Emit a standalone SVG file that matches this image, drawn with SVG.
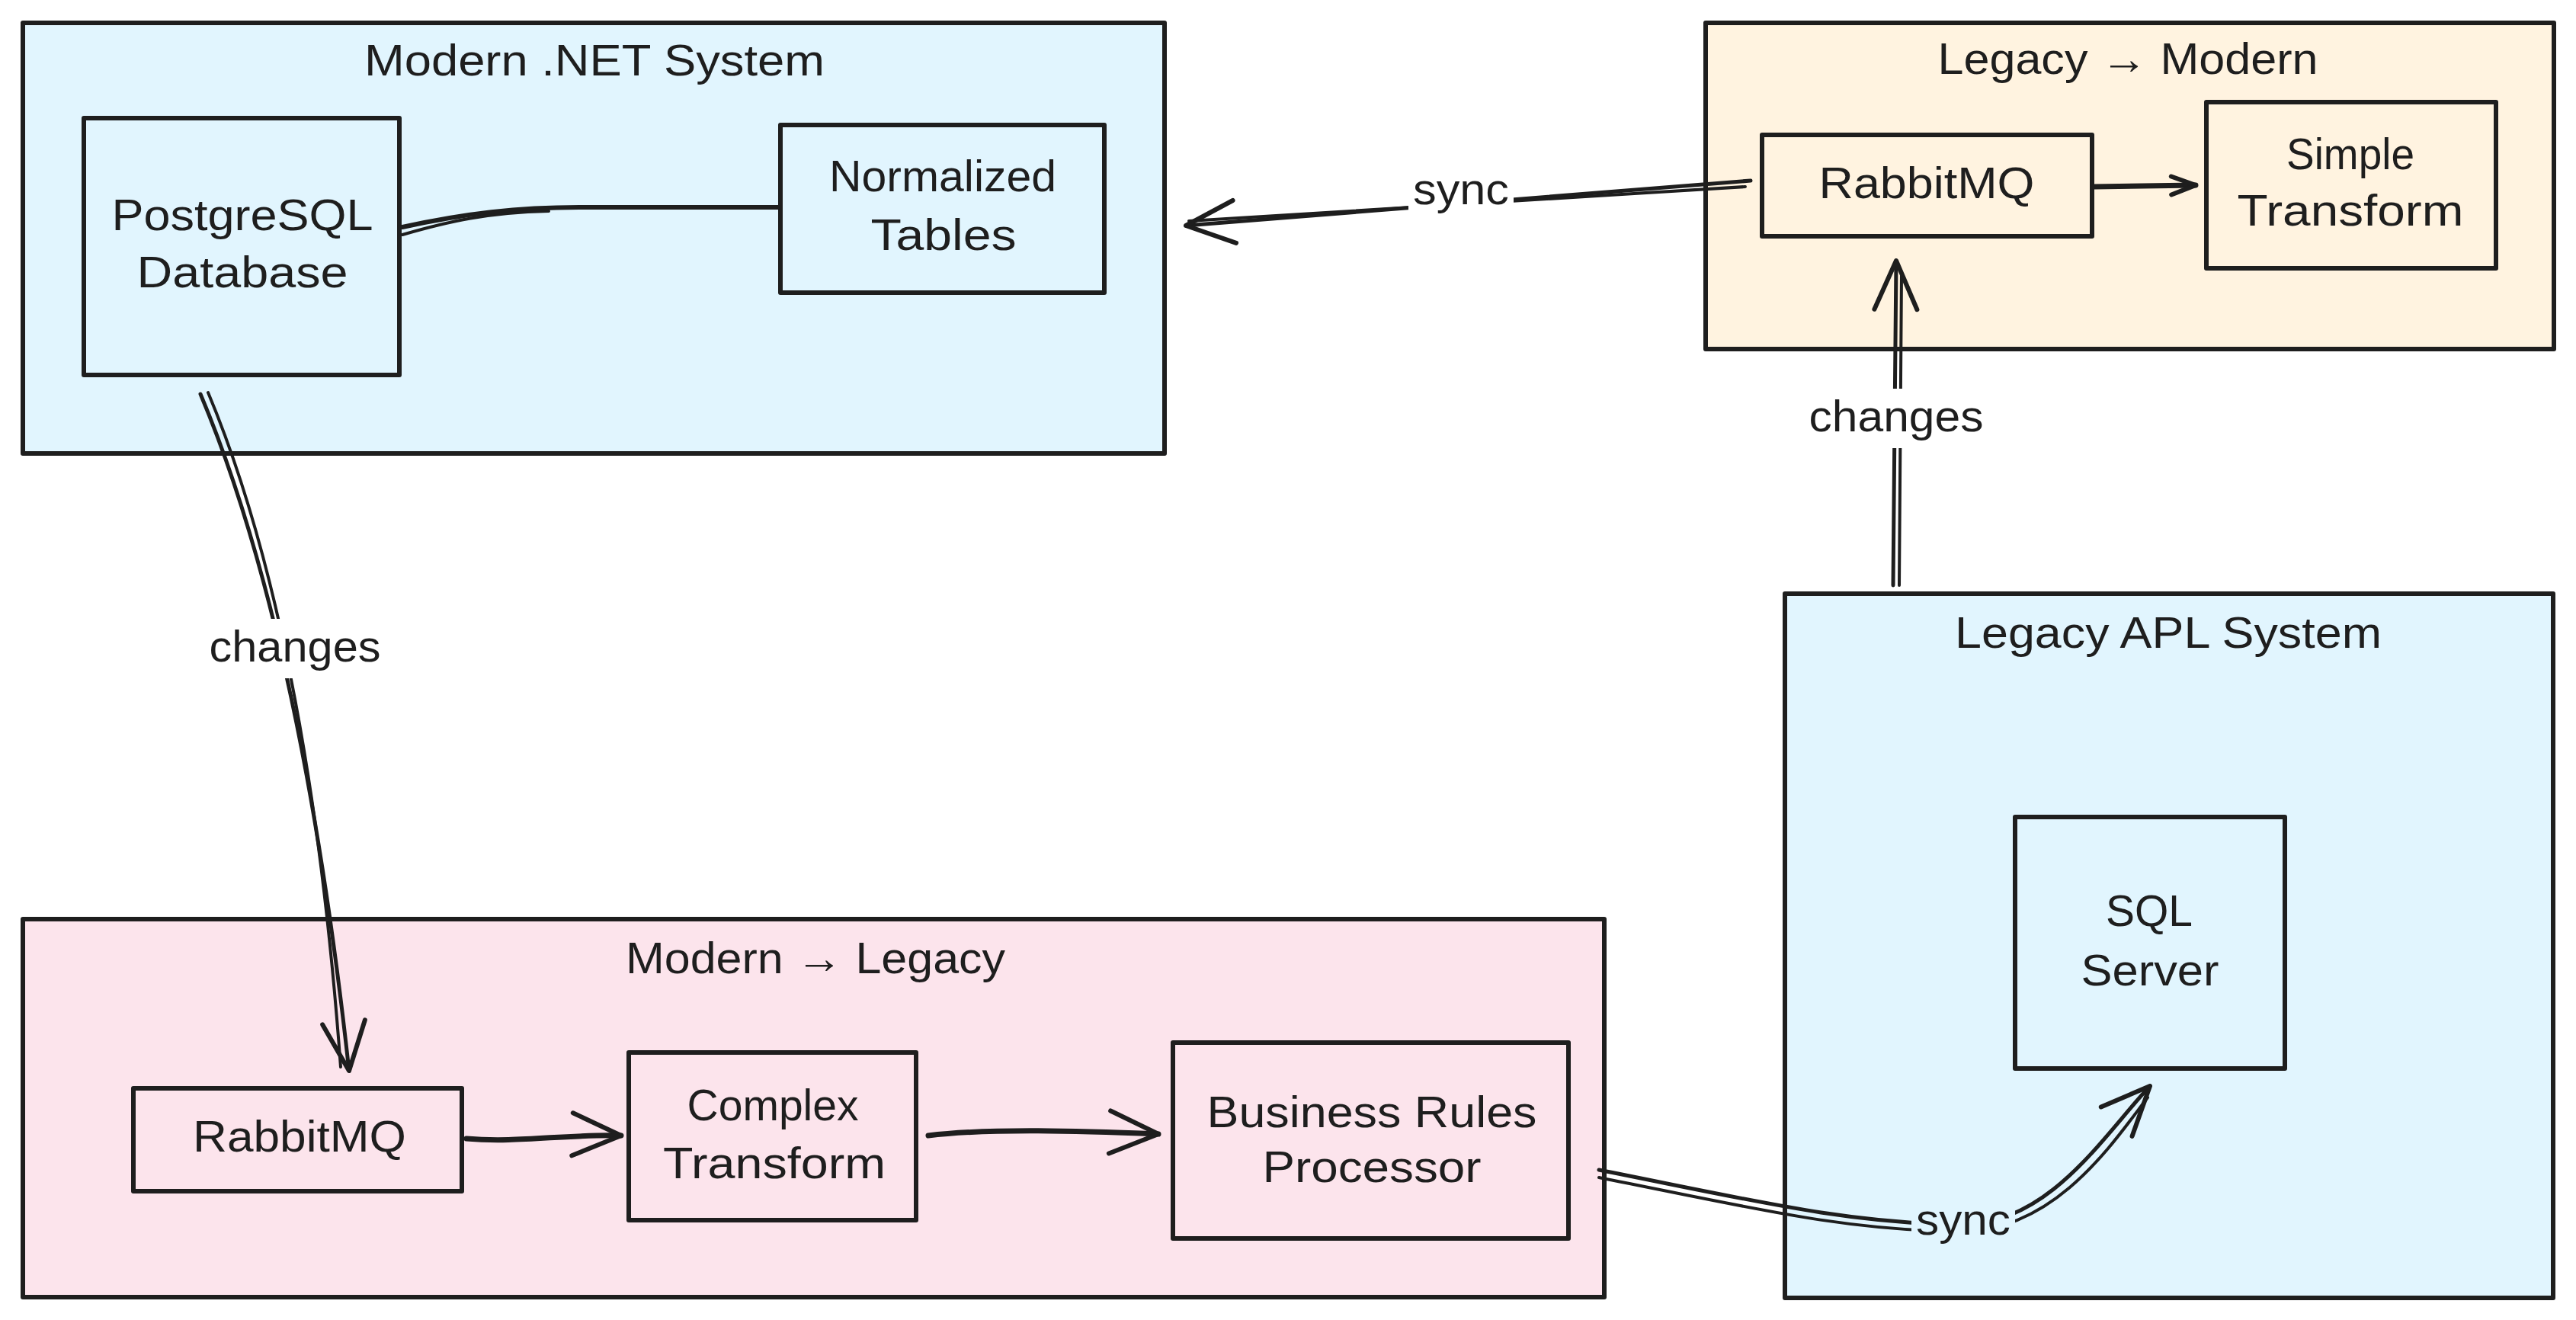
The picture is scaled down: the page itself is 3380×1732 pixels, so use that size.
<svg xmlns="http://www.w3.org/2000/svg" width="3380" height="1732" viewBox="0 0 3380 1732">
<defs>
<style>
.box{stroke:#1e1e1e;stroke-width:6;stroke-linejoin:round}
.blue{fill:#e1f5fe}
.orange{fill:#fff3e0}
.pink{fill:#fce4ec}
.t{font-family:'Liberation Sans',Arial,'DejaVu Sans',sans-serif;font-size:58px;fill:#1e1e1e;text-anchor:middle}
.c{fill:none;stroke:#1e1e1e;stroke-width:5;stroke-linecap:round;stroke-linejoin:round}
.c2{fill:none;stroke:#1e1e1e;stroke-width:4;stroke-linecap:round}
</style>
<marker id="ah" viewBox="-70 -40 80 80" refX="0" refY="0" markerWidth="80" markerHeight="80" markerUnits="userSpaceOnUse" orient="auto" overflow="visible">
<path d="M-64,-28 L0,0 L-64,28" fill="none" stroke="#1e1e1e" stroke-width="6" stroke-linecap="round" stroke-linejoin="round"/>
</marker>
<marker id="ahs" viewBox="-40 -20 50 40" refX="0" refY="0" markerWidth="50" markerHeight="40" markerUnits="userSpaceOnUse" orient="auto" overflow="visible">
<path d="M-32,-12 L0,0 L-32,12" fill="none" stroke="#1e1e1e" stroke-width="6" stroke-linecap="round" stroke-linejoin="round"/>
</marker>
</defs>
<rect width="3380" height="1732" fill="#ffffff"/>

<g id="modern-net-system">
<rect class="box blue" x="30" y="30" width="1498" height="565"/>
<text class="t" x="780" y="99" textLength="604" lengthAdjust="spacingAndGlyphs">Modern .NET System</text>
</g>
<g id="legacy-to-modern">
<rect class="box orange" x="2238" y="30" width="1113" height="428"/>
<text class="t" x="2792" y="97" textLength="499" lengthAdjust="spacingAndGlyphs">Legacy → Modern</text>
</g>
<g id="legacy-apl-system">
<rect class="box blue" x="2342" y="779" width="1008" height="924"/>
<text class="t" x="2845" y="850" textLength="560" lengthAdjust="spacingAndGlyphs">Legacy APL System</text>
</g>
<g id="modern-to-legacy">
<rect class="box pink" x="30" y="1206" width="2075" height="496"/>
<text class="t" x="1070" y="1277" textLength="498" lengthAdjust="spacingAndGlyphs">Modern → Legacy</text>
</g>

<g id="postgresql-database">
<rect class="box blue" x="110" y="155" width="414" height="337"/>
<text class="t" x="318" y="302" textLength="343" lengthAdjust="spacingAndGlyphs">PostgreSQL</text>
<text class="t" x="318" y="377" textLength="277" lengthAdjust="spacingAndGlyphs">Database</text>
</g>
<g id="normalized-tables">
<rect class="box blue" x="1024" y="164" width="425" height="220"/>
<text class="t" x="1237" y="251" textLength="298" lengthAdjust="spacingAndGlyphs">Normalized</text>
<text class="t" x="1238" y="328" textLength="191" lengthAdjust="spacingAndGlyphs">Tables</text>
</g>
<g id="rabbitmq-top">
<rect class="box orange" x="2312" y="177" width="433" height="133"/>
<text class="t" x="2528" y="260" textLength="283" lengthAdjust="spacingAndGlyphs">RabbitMQ</text>
</g>
<g id="simple-transform">
<rect class="box orange" x="2895" y="134" width="380" height="218"/>
<text class="t" x="3084" y="222" textLength="168" lengthAdjust="spacingAndGlyphs">Simple</text>
<text class="t" x="3084" y="296" textLength="297" lengthAdjust="spacingAndGlyphs">Transform</text>
</g>
<g id="sql-server">
<rect class="box blue" x="2644" y="1072" width="354" height="330"/>
<text class="t" x="2820" y="1215" textLength="114" lengthAdjust="spacingAndGlyphs">SQL</text>
<text class="t" x="2821" y="1293" textLength="181" lengthAdjust="spacingAndGlyphs">Server</text>
</g>
<g id="rabbitmq-bottom">
<rect class="box pink" x="175" y="1428" width="431" height="135"/>
<text class="t" x="393" y="1511" textLength="280" lengthAdjust="spacingAndGlyphs">RabbitMQ</text>
</g>
<g id="complex-transform">
<rect class="box pink" x="825" y="1381" width="377" height="220"/>
<text class="t" x="1014" y="1470" textLength="225" lengthAdjust="spacingAndGlyphs">Complex</text>
<text class="t" x="1016" y="1546" textLength="292" lengthAdjust="spacingAndGlyphs">Transform</text>
</g>
<g id="business-rules-processor">
<rect class="box pink" x="1539" y="1368" width="519" height="257"/>
<text class="t" x="1800" y="1479" textLength="433" lengthAdjust="spacingAndGlyphs">Business Rules</text>
<text class="t" x="1800" y="1551" textLength="287" lengthAdjust="spacingAndGlyphs">Processor</text>
</g>

<g id="connectors">
<path class="c" style="stroke-width:6" d="M528,298 C610,280 680,272 760,272 L1022,272"/>
<path class="c2" d="M528,308 C590,290 640,279 720,277"/>
<path class="c" d="M2297,237 L1556,296" marker-end="url(#ah)"/>
<path class="c2" d="M2290,245 L1560,290"/>
<rect x="1848" y="222" width="138" height="60" fill="#ffffff"/>
<text class="t" x="1917" y="268" textLength="126" lengthAdjust="spacingAndGlyphs">sync</text>
<path class="c" style="stroke-width:7" d="M2748,245 L2881,243" marker-end="url(#ahs)"/>
<path class="c" d="M2484,768 L2488,342" marker-end="url(#ah)"/>
<path class="c2" d="M2492,768 L2495,360"/>
<rect x="2368" y="510" width="240" height="78" fill="#ffffff"/>
<text class="t" x="2488" y="566" textLength="229" lengthAdjust="spacingAndGlyphs">changes</text>
<path class="c" d="M263,517 Q395,830 458,1405" marker-end="url(#ah)"/>
<path class="c2" d="M273,515 Q405,830 447,1400"/>
<rect x="268" y="812" width="240" height="78" fill="#ffffff"/>
<text class="t" x="387" y="868" textLength="225" lengthAdjust="spacingAndGlyphs">changes</text>
<path class="c" style="stroke-width:7" d="M612,1494 C680,1500 740,1488 815,1490" marker-end="url(#ah)"/>
<path class="c" style="stroke-width:7" d="M1218,1490 C1300,1480 1420,1484 1520,1488" marker-end="url(#ah)"/>
<path class="c" d="M2098,1535 C2300,1575 2420,1605 2576,1607 C2690,1605 2760,1490 2821,1425" marker-end="url(#ah)"/>
<path class="c2" d="M2098,1545 C2300,1585 2420,1615 2576,1616 C2698,1613 2772,1500 2818,1440"/>
<rect x="2508" y="1568" width="136" height="62" fill="#e1f5fe"/>
<text class="t" x="2576" y="1620" textLength="124" lengthAdjust="spacingAndGlyphs">sync</text>
</g>
</svg>
